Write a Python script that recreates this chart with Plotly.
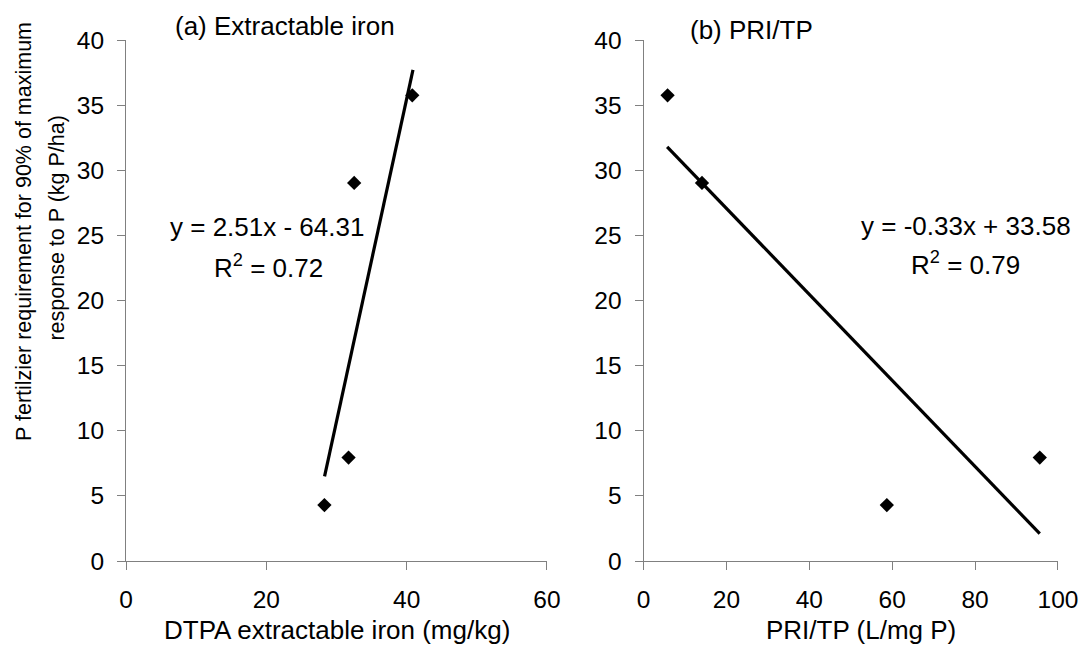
import plotly.graph_objects as go

# Data
p_req = [35.75, 29.03, 4.29, 7.94]          # P fertilizer requirement (kg P/ha)
iron = [40.8, 32.52, 28.28, 31.72]          # DTPA extractable iron (mg/kg)
pri_tp = [5.8, 14.1, 58.7, 95.6]            # PRI/TP (L/mg P)

trend_a_x = [28.3, 40.9]
trend_a_y = [6.5, 37.7]
trend_b_x = [5.7, 95.6]
trend_b_y = [31.8, 2.1]

x_ticks_a = [0, 20, 40, 60]
x_ticks_b = [0, 20, 40, 60, 80, 100]
y_ticks = [0, 5, 10, 15, 20, 25, 30, 35, 40]

FONT = "Liberation Sans, Arial, sans-serif"
GRAY = "#808080"

fig = go.Figure()

fig.add_trace(go.Scatter(x=iron, y=p_req, mode="markers", xaxis="x", yaxis="y",
                         marker=dict(symbol="diamond", size=11, color="black"),
                         showlegend=False, hoverinfo="x+y"))
fig.add_trace(go.Scatter(x=trend_a_x, y=trend_a_y, mode="lines", xaxis="x", yaxis="y",
                         line=dict(color="black", width=3.2), showlegend=False))
fig.add_trace(go.Scatter(x=pri_tp, y=p_req, mode="markers", xaxis="x2", yaxis="y2",
                         marker=dict(symbol="diamond", size=11, color="black"),
                         showlegend=False, hoverinfo="x+y"))
fig.add_trace(go.Scatter(x=trend_b_x, y=trend_b_y, mode="lines", xaxis="x2", yaxis="y2",
                         line=dict(color="black", width=3.2), showlegend=False))

axis_common = dict(showline=True, linecolor=GRAY, linewidth=1, ticks="outside",
                   ticklen=8, tickcolor=GRAY, tickwidth=1, showgrid=False,
                   zeroline=False, tickfont=dict(family=FONT, size=24.5, color="black"))

fig.update_layout(
    width=1090, height=646,
    margin=dict(l=125.7, r=25, t=39.5, b=85),
    paper_bgcolor="white", plot_bgcolor="white",
    font=dict(family=FONT, size=24, color="black"),
    xaxis=dict(domain=[0, 0.4517], range=[0, 60], tickvals=x_ticks_a,
               anchor="y", ticklabelstandoff=9, **axis_common),
    yaxis=dict(domain=[0, 1], range=[0, 40], tickvals=y_ticks, anchor="x",
               ticklabelstandoff=8, **axis_common),
    xaxis2=dict(domain=[0.5553, 1], range=[0, 100], tickvals=x_ticks_b,
                anchor="y2", ticklabelstandoff=9, **axis_common),
    yaxis2=dict(domain=[0, 1], range=[0, 40], tickvals=y_ticks, anchor="x2",
                ticklabelstandoff=8, **axis_common),
)

ann = [
    dict(text="(a) Extractable iron", x=0.05, y=1.026, xanchor="left", yanchor="middle", size=26),
    dict(text="(b) PRI/TP", x=0.6026, y=1.020, xanchor="left", yanchor="middle", size=26),
    dict(text="y = 2.51x - 64.31", x=0.1515, y=0.6412, xanchor="center", yanchor="middle", size=26),
    dict(text="R<sup>2</sup> = 0.72", x=0.1532, y=0.566, xanchor="center", yanchor="middle", size=26),
    dict(text="y = -0.33x + 33.58", x=0.901, y=0.6433, xanchor="center", yanchor="middle", size=26),
    dict(text="R<sup>2</sup> = 0.79", x=0.901, y=0.5705, xanchor="center", yanchor="middle", size=26),
    dict(text="DTPA extractable iron (mg/kg)", x=0.2259, y=-0.132, xanchor="center", yanchor="middle", size=26),
    dict(text="PRI/TP (L/mg P)", x=0.789, y=-0.132, xanchor="center", yanchor="middle", size=26),
    dict(text="P fertilzier requirement for 90% of maximum",
         x=-0.1097, y=0.633, xanchor="center", yanchor="middle", textangle=-90, size=21.5),
    dict(text="response to P (kg P/ha)",
         x=-0.0735, y=0.639, xanchor="center", yanchor="middle", textangle=-90, size=21.5),
]
for a in ann:
    sz = a.pop("size")
    fig.add_annotation(xref="paper", yref="paper", showarrow=False,
                       font=dict(family=FONT, size=sz, color="black"), **a)

fig.write_html("out.html")
